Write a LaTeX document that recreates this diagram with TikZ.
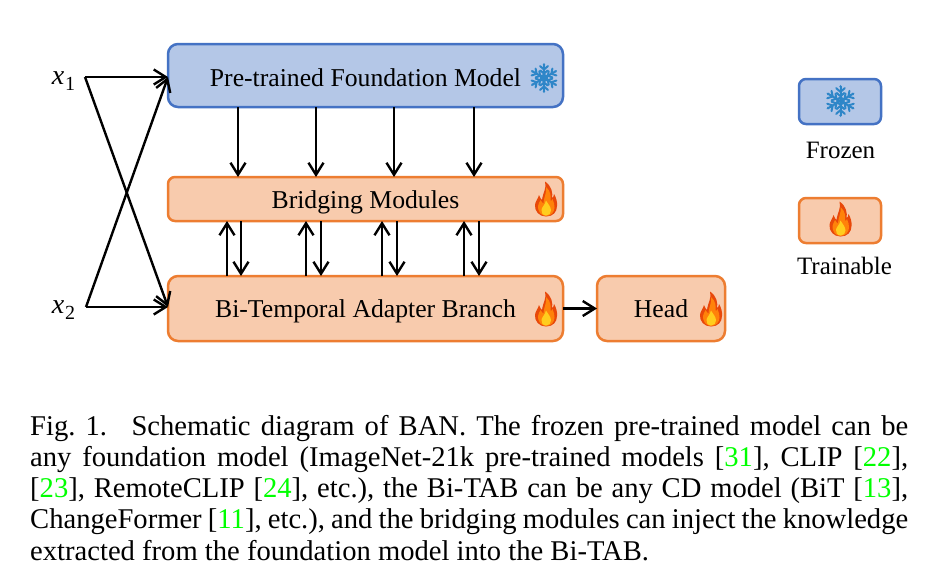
\documentclass[tikz,border=0pt]{standalone}
\usepackage{fontspec}
\setmainfont{Liberation Serif}
\usetikzlibrary{arrows.meta,calc}
\definecolor{frzfill}{HTML}{B4C7E7}
\definecolor{frzline}{HTML}{4472C4}
\definecolor{trnfill}{HTML}{F8CBAD}
\definecolor{trnline}{HTML}{ED7D31}
\definecolor{flake}{HTML}{2E86C8}
\definecolor{citegreen}{HTML}{00FF00}
\definecolor{flameout}{HTML}{E8480A}
\definecolor{flamemid}{HTML}{FF820A}
\definecolor{flamein}{HTML}{FFCD1E}
\newcommand{\cit}[1]{[\textcolor{citegreen}{#1}]}
\newcommand{\inp}[1]{\textit{x}\hspace{1pt}\raisebox{-6pt}{\fontsize{20}{20}\selectfont #1}}
\tikzset{
  x=1pt,y=-1pt,
  boxbase/.style={rectangle,outer sep=0pt,inner sep=0pt,line width=2.5pt,text height=22pt,text depth=4pt,font=\fontsize{25.7}{25.7}\selectfont},
  frozenbox/.style={boxbase,draw=frzline,fill=frzfill},
  trainbox/.style={boxbase,draw=trnline,fill=trnfill},
  arr/.style={line width=2.4pt,-{Straight Barb[length=12pt,width=15pt,line width=2.4pt]}},
  lbl/.style={inner sep=0pt,font=\fontsize{25}{25}\selectfont},
  flame/.pic={
    \fill[flameout] (0,17.5) .. controls (-7,17.5) and (-11.5,12) .. (-11,6) .. controls (-10.7,2) and (-8,0) .. (-7,-4) .. controls (-6,-1) and (-5,0) .. (-4,1) .. controls (-3,-7) and (1,-11) .. (-1,-17.5) .. controls (6,-13) and (7,-5) .. (6,-1) .. controls (7,-1) and (8,-3) .. (8,-5) .. controls (10,-2) and (11.5,3) .. (11,7) .. controls (11,13) and (7,17.5) .. (0,17.5) -- cycle;
    \fill[flamemid] (0,17) .. controls (-5,17) and (-8.5,12) .. (-8,7) .. controls (-7.7,4) and (-6,3) .. (-5.5,1) .. controls (-4,3.5) and (-3.5,4) .. (-2.5,4.5) .. controls (-2,-3) and (1,-6) .. (0,-12) .. controls (5,-8) and (5,-2) .. (4.5,2) .. controls (5.5,2) and (6,1) .. (6.5,0) .. controls (8,3) and (8.5,6) .. (8.5,8.5) .. controls (8.5,13) and (5,17) .. (0,17) -- cycle;
    \fill[flamein] (0,16.5) .. controls (-3.5,16.5) and (-5,13) .. (-4.5,10.5) .. controls (-4,8) and (-1,6) .. (0,1.5) .. controls (2,5) and (5,8) .. (5,11.5) .. controls (5,14.5) and (3,16.5) .. (0,16.5) -- cycle;
  },
  snowflake/.pic={
    \foreach \a in {0,60,...,300}{
      \begin{scope}[rotate=\a,draw=flake,line width=2pt,line cap=round]
        \draw (0,0) -- (0,-13.5);
        \draw (-4,-12) -- (0,-8.5) -- (4,-12);
        \draw (-3.6,-7.5) -- (0,-4.5) -- (3.6,-7.5);
        \fill[flake] (0,-15) -- (1.4,-13) -- (-1.4,-13) -- cycle;
      \end{scope}
    }
    \draw[flake,line width=1.8pt] (0,0) circle[radius=3.2];
  }
}
\begin{document}
\begin{tikzpicture}
\useasboundingbox (0,0) rectangle (937,574);
\fill[white] (0,0) rectangle (937,574);

% main boxes
\node[frozenbox,text height=23.5pt,text depth=2.5pt,rounded corners=10pt,minimum width=395pt,minimum height=63pt] (fm) at (365.5,75.5) {Pre-trained Foundation Model};
\node[trainbox,rounded corners=7pt,minimum width=395pt,minimum height=44pt] (bm) at (365.5,199) {Bridging Modules};
\node[trainbox,rounded corners=10pt,minimum width=395pt,minimum height=65pt] (ta) at (365.5,308.5) {Bi-Temporal Adapter Branch};
\node[trainbox,rounded corners=10pt,minimum width=128pt,minimum height=65pt] (hd) at (661,308.5) {Head};

% legend
\node[frozenbox,rounded corners=7pt,minimum width=82pt,minimum height=45pt] (lf) at (840,101.5) {};
\node[trainbox,rounded corners=7pt,minimum width=82pt,minimum height=45pt] (lt) at (840,220.5) {};
\node[lbl] (lftxt) at (840.5,150) {Frozen};
\node[lbl] (lttxt) at (844.5,266) {Trainable};

% icons
\pic at (544,78) {snowflake};
\pic at (840.5,101) [scale=1.07] {snowflake};
\pic at (546,199) {flame};
\pic at (546,309) {flame};
\pic at (711,309) {flame};
\pic at (840.5,219) {flame};

% inputs
\node[lbl,font=\fontsize{28}{28}\selectfont] (x1) at (63.5,81.5) {\inp{1}};
\node[lbl,font=\fontsize{28}{28}\selectfont] (x2) at (63.5,310.5) {\inp{2}};
\coordinate (s1) at (85,77);
\coordinate (s2) at (86,307);
\draw[arr] (s1) -- (fm.west |- s1);
\draw[arr] (s1) -- (ta.west |- s2);
\draw[arr] (s2) -- (ta.west |- s2);
\draw[arr] (s2) -- (fm.west |- s1);

% arrows foundation -> bridging
\foreach \n/\xx in {d1/238,d2/316,d3/394,d4/474}{
  \coordinate (\n) at (\xx,0);
  \draw[arr] (fm.south -| \n) -- (bm.north -| \n);
}
% up arrows adapter -> bridging
\foreach \n/\xx in {u1/227,u2/306,u3/382,u4/464}{
  \coordinate (\n) at (\xx,0);
  \draw[arr] (ta.north -| \n) -- (bm.south -| \n);
}
% down arrows bridging -> adapter
\foreach \n/\xx in {v1/241,v2/321,v3/397,v4/479}{
  \coordinate (\n) at (\xx,0);
  \draw[arr] (bm.south -| \n) -- (ta.north -| \n);
}
\draw[arr] (ta.east) -- (hd.west);

% caption
\node[anchor=north west,inner sep=0pt,text width=878pt,align=justify,font=\fontsize{28.6}{31.2}\selectfont] (cap) at (30,415) {%
\frenchspacing
Fig. 1.\hspace{0.5em} Schematic diagram of BAN. The frozen pre-trained model can be\linebreak
any foundation model (ImageNet-21k pre-trained models \cit{31}, CLIP \cit{22},\linebreak
\cit{23}, RemoteCLIP \cit{24}, etc.), the Bi-TAB can be any CD model (BiT \cit{13},\linebreak
ChangeFormer \cit{11}, etc.), and the bridging modules can inject the knowledge\linebreak
extracted from the foundation model into the Bi-TAB.};
\end{tikzpicture}
\end{document}
